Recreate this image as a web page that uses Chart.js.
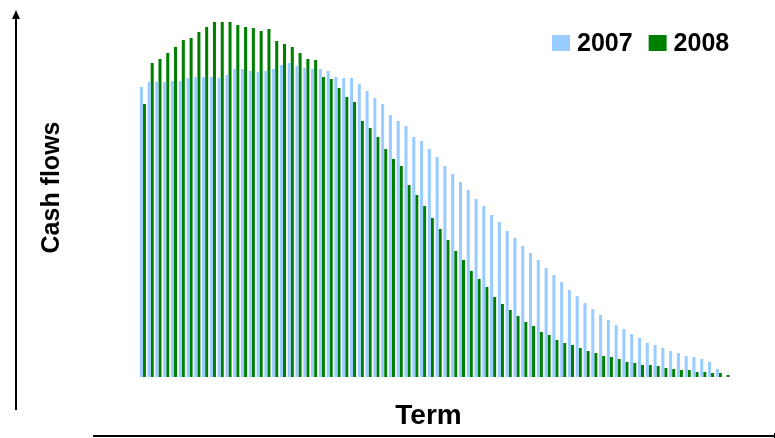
<!DOCTYPE html>
<html>
<head>
<meta charset="utf-8">
<script src="https://cdn.jsdelivr.net/npm/chart.js@4/dist/chart.umd.min.js"></script>
<style>
  html, body { margin: 0; padding: 0; background: #ffffff; }
  #wrap { width: 775px; height: 438px; position: relative; }
</style>
</head>
<body>
<div id="wrap"><canvas id="cf"></canvas></div>
<script>
// Term buckets (1..76)
const terms = Array.from({ length: 76 }, (_, i) => String(i + 1));

// Projected cash flows per term, arbitrary units
const flows2007 = [
  290, 295, 295, 295, 296, 296, 299, 300, 300, 300,
  299, 302, 308, 308, 306, 305, 306, 308, 312, 314,
  311, 309, 308, 308, 306, 300, 299, 299, 293, 286,
  279, 273, 262, 256, 251, 240, 236, 228, 220, 211,
  203, 195, 187, 178, 171, 162, 155, 146, 139, 131,
  124, 117, 109, 102, 95, 87, 81, 74, 68, 62,
  57, 52, 48, 43, 39, 34, 32, 29, 26, 24,
  21, 20, 18, 15, 8, 0
];
const flows2008 = [
  273, 314, 318, 324, 330, 337, 339, 345, 350, 355,
  355, 355, 352, 350, 349, 346, 348, 336, 333, 330,
  324, 318, 317, 300, 298, 289, 280, 275, 256, 249,
  240, 228, 218, 211, 192, 182, 171, 159, 148, 137,
  126, 117, 106, 98, 90, 80, 73, 67, 61, 55,
  51, 45, 42, 37, 34, 32, 29, 26, 24, 21,
  20, 18, 15, 14, 12, 12, 11, 9, 8, 7,
  7, 5, 5, 4, 4, 2
];

const seriesNames = ['2007', '2008'];
const seriesColors = ['#99CCFF', '#008000'];
const yTitle = 'Cash flows';
const xTitle = 'Term';

const FONT = '"Liberation Sans", Arial, Helvetica, sans-serif';

// Arrowed value axis, baseline rule, axis titles and legend
const decorations = {
  id: 'decorations',
  afterDraw(chart) {
    const ctx = chart.ctx;
    ctx.save();
    ctx.fillStyle = '#000';
    ctx.strokeStyle = '#000';

    // vertical axis with arrow head
    ctx.lineWidth = 2;
    ctx.beginPath();
    ctx.moveTo(16, 410);
    ctx.lineTo(16, 17);
    ctx.stroke();
    ctx.beginPath();
    ctx.moveTo(16, 10);
    ctx.lineTo(12, 19);
    ctx.lineTo(20, 19);
    ctx.closePath();
    ctx.fill();

    // horizontal rule under the term title
    ctx.beginPath();
    ctx.moveTo(93, 436);
    ctx.lineTo(775, 436);
    ctx.stroke();
    ctx.lineWidth = 1;
    ctx.beginPath();
    ctx.moveTo(774.5, 433);
    ctx.lineTo(774.5, 438);
    ctx.stroke();

    // axis titles
    ctx.font = 'bold 28px ' + FONT;
    ctx.textAlign = 'center';
    ctx.textBaseline = 'alphabetic';
    ctx.fillText(xTitle, 428.5, 424);

    ctx.save();
    ctx.translate(59, 187.5);
    ctx.rotate(-Math.PI / 2);
    ctx.font = 'bold 25px ' + FONT;
    ctx.fillText(yTitle, 0, 0);
    ctx.restore();

    // legend
    ctx.font = 'bold 25px ' + FONT;
    ctx.textAlign = 'left';
    let x = 552;
    chart.data.datasets.forEach((ds) => {
      ctx.fillStyle = ds.backgroundColor;
      ctx.fillRect(x, 35, 18, 16);
      ctx.fillStyle = '#000';
      ctx.fillText(ds.label, x + 25, 51);
      x += 25 + ctx.measureText(ds.label).width + 16;
    });

    ctx.restore();
  }
};

new Chart(document.getElementById('cf'), {
  type: 'bar',
  data: {
    labels: terms,
    datasets: [
      { label: seriesNames[0], data: flows2007, backgroundColor: seriesColors[0] },
      { label: seriesNames[1], data: flows2008, backgroundColor: seriesColors[1] }
    ]
  },
  options: {
    responsive: true,
    maintainAspectRatio: false,
    animation: false,
    layout: { padding: { left: 139, right: 44.5, top: 17, bottom: 61 } },
    datasets: {
      bar: { categoryPercentage: 0.78, barPercentage: 1.0, borderWidth: 0 }
    },
    scales: {
      x: { display: false },
      y: { display: false, min: 0, max: 360 }
    },
    plugins: {
      legend: { display: false },
      tooltip: { enabled: false }
    }
  },
  plugins: [decorations]
});
</script>
</body>
</html>
